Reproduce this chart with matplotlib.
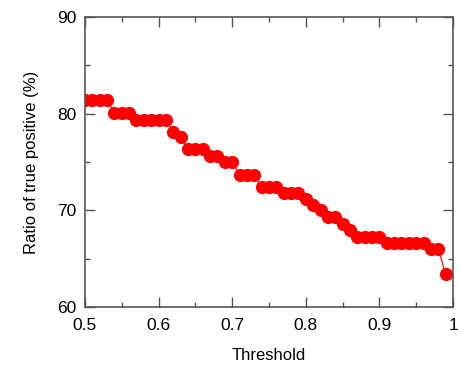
import numpy as np
import matplotlib
matplotlib.use("Agg")
import matplotlib.pyplot as plt
from matplotlib.ticker import MultipleLocator

plt.rcParams['font.family'] = ['Liberation Sans', 'DejaVu Sans']

# threshold values and ratio of true positive (%)
threshold = [0.50, 0.51, 0.52, 0.53, 0.54, 0.55, 0.56, 0.57, 0.58, 0.59,
             0.60, 0.61, 0.62, 0.63, 0.64, 0.65, 0.66, 0.67, 0.68, 0.69,
             0.70, 0.71, 0.72, 0.73, 0.74, 0.75, 0.76, 0.77, 0.78, 0.79,
             0.80, 0.81, 0.82, 0.83, 0.84, 0.85, 0.86, 0.87, 0.88, 0.89,
             0.90, 0.91, 0.92, 0.93, 0.94, 0.95, 0.96, 0.97, 0.98, 0.99]
ratio_tp = [81.4, 81.4, 81.4, 81.4, 80.1, 80.1, 80.1, 79.4, 79.4, 79.4,
            79.4, 79.4, 78.1, 77.6, 76.3, 76.3, 76.3, 75.65, 75.65, 75.0,
            75.0, 73.7, 73.7, 73.7, 72.4, 72.4, 72.4, 71.8, 71.8, 71.8,
            71.2, 70.6, 70.0, 69.3, 69.3, 68.6, 68.0, 67.3, 67.3, 67.3,
            67.3, 66.65, 66.65, 66.65, 66.65, 66.65, 66.65, 66.0, 66.0, 63.4]
xtick_vals = [0.5, 0.6, 0.7, 0.8, 0.9, 1.0]
xtick_labels = ['0.5', '0.6', '0.7', '0.8', '0.9', '1']

fig = plt.figure(figsize=(4.59, 3.70), dpi=100)
ax = fig.add_axes([0.185, 0.170, 0.802, 0.784])

ax.plot(threshold, ratio_tp, '-', color='red', lw=0.8)
ax.plot(threshold, ratio_tp, 'o', color='red', ms=9.5, mec='none')

ax.set_xlim(0.5, 1.0)
ax.set_ylim(60, 90)
ax.set_xticks(xtick_vals)
ax.set_xticklabels(xtick_labels)
ax.xaxis.set_minor_locator(MultipleLocator(0.05))
ax.yaxis.set_major_locator(MultipleLocator(10))
ax.yaxis.set_minor_locator(MultipleLocator(5))

for s in ax.spines.values():
    s.set_color('#555555')
    s.set_linewidth(1.2)
ax.tick_params(which='both', direction='in', top=True, right=True,
               color='#555555', width=1.0, labelsize=12.5)
ax.tick_params(which='major', length=7)
ax.tick_params(which='minor', length=3.5)
ax.tick_params(axis='x', pad=8)
ax.tick_params(axis='y', pad=6)

ax.set_xlabel('Threshold', fontsize=12, labelpad=11)
ax.set_ylabel('Ratio of true positive (%)', fontsize=12, labelpad=13)

fig.savefig('out.png', dpi=100)
